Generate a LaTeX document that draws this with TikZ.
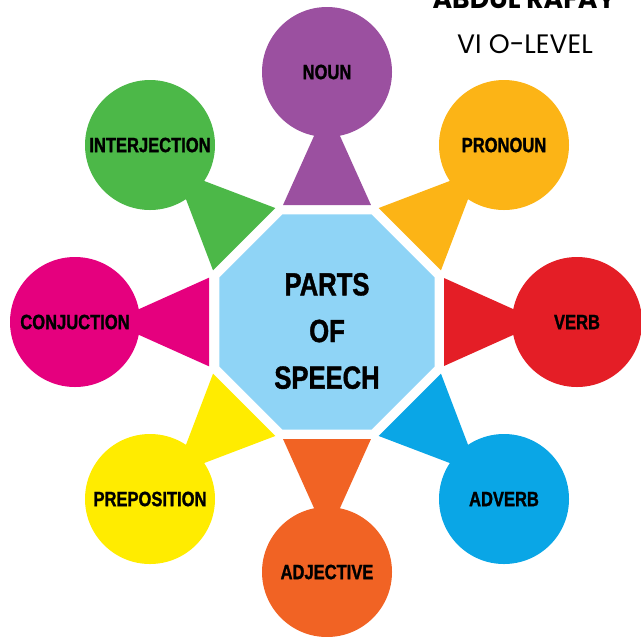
\documentclass[tikz,border=0pt]{standalone}
\usepackage{fontspec}
\setmainfont{Liberation Sans}
\newfontfamily\partfont{Liberation Sans Bold}[FakeStretch=0.8, FakeBold=1.3]
\newfontfamily\namefont{Poppins}
\usetikzlibrary{calc,backgrounds,shapes.geometric}

\definecolor{nounc}{RGB}{155,80,160}
\definecolor{pronounc}{RGB}{252,180,22}
\definecolor{verbc}{RGB}{228,30,38}
\definecolor{adverbc}{RGB}{10,166,230}
\definecolor{adjectivec}{RGB}{241,99,36}
\definecolor{prepositionc}{RGB}{255,236,0}
\definecolor{conjuctionc}{RGB}{229,0,126}
\definecolor{interjectionc}{RGB}{76,184,72}
\definecolor{speechc}{RGB}{143,212,246}

\tikzset{every picture/.style={line width=0.75pt},
  partcircle/.style={circle, minimum size=97.5pt, inner sep=0pt,
    font=\partfont\fontsize{15.5}{18}\selectfont},
}

\begin{document}
\begin{tikzpicture}[x=0.75pt,y=0.75pt,yscale=-1,xscale=1]
\useasboundingbox (0,0) rectangle (641,636);

%Shape: Octagon
\node[regular polygon, regular polygon sides=8, minimum size=174.75pt,
  inner sep=0pt, outer sep=0pt, fill=speechc] (speech) at (327,322) {};
% Text Node
\node[align=center, font=\partfont\fontsize{24}{35}\selectfont] (title) at (327,331) {PARTS\\OF\\SPEECH};

%Shape: Circles
\node[partcircle, fill=nounc] (noun) at (327,72) {NOUN};
\node[partcircle, fill=pronounc] (pronoun) at (504,145) {PRONOUN};
\node[partcircle, fill=verbc] (verb) at (577,322) {VERB};
\node[partcircle, fill=adverbc] (adverb) at (504,499) {ADVERB};
\node[partcircle, fill=adjectivec] (adjective) at (327,572) {ADJECTIVE};
\node[partcircle, fill=prepositionc] (preposition) at (150,499) {PREPOSITION};
\node[partcircle, fill=conjuctionc] (conjuction) at (75,322) {CONJUCTION};
\node[partcircle, fill=interjectionc] (interjection) at (150,145) {INTERJECTION};

%Shape: Triangles
\begin{scope}[on background layer]
\foreach \n/\c in {noun/nounc, pronoun/pronounc, verb/verbc, adverb/adverbc,
  adjective/adjectivec, preposition/prepositionc, conjuction/conjuctionc,
  interjection/interjectionc}
  \fill[\c] ($(speech.center)!0.5!20.6:(\n.center)$) -- ($(speech.center)!0.5!-20.6:(\n.center)$)
    -- ($(speech.center)!0.86!(\n.center)$) -- cycle;
\end{scope}

% Text Node
\node[anchor=base, font=\namefont\bfseries\fontsize{20}{24}\selectfont] (student) at (524,8) {ABDUL RAFAY};
% Text Node
\node[anchor=base, font=\namefont\fontsize{20}{24}\selectfont] (level) at (525,53) {VI O-LEVEL};

\end{tikzpicture}
\end{document}
